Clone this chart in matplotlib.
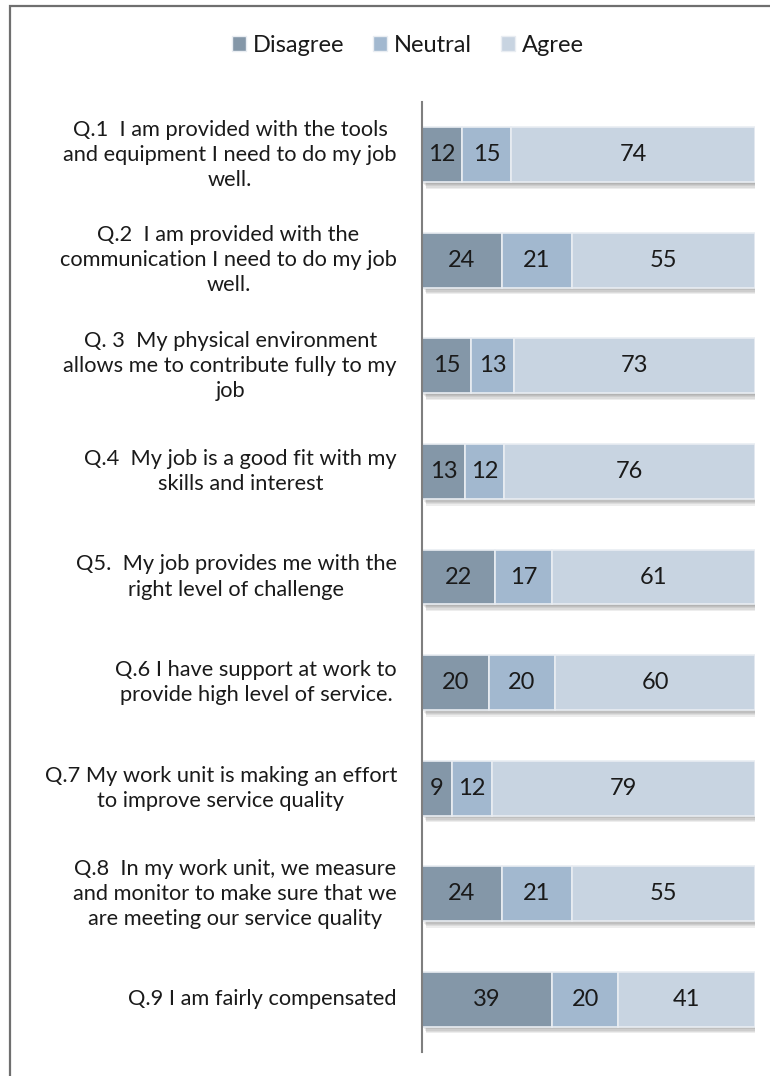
import matplotlib
matplotlib.use("Agg")
import matplotlib.pyplot as plt
import matplotlib.patheffects as pe
from matplotlib.patches import Rectangle, Patch
import numpy as np

plt.rcParams['font.family'] = ['Lato', 'DejaVu Sans']

questions = [
    "Q.1  I am provided with the tools\nand equipment I need to do my job\nwell.",
    "Q.2  I am provided with the\ncommunication I need to do my job\nwell.",
    "Q. 3  My physical environment\nallows me to contribute fully to my\njob",
    "Q.4  My job is a good fit with my\nskills and interest",
    "Q5.  My job provides me with the\nright level of challenge",
    "Q.6 I have support at work to\nprovide high level of service.",
    "Q.7 My work unit is making an effort\nto improve service quality",
    "Q.8  In my work unit, we measure\nand monitor to make sure that we\nare meeting our service quality",
    "Q.9 I am fairly compensated",
]
series_names = ["Disagree", "Neutral", "Agree"]
disagree = [12, 24, 15, 13, 22, 20, 9, 24, 39]
neutral = [15, 21, 13, 12, 17, 20, 12, 21, 20]
agree = [74, 55, 73, 76, 61, 60, 79, 55, 41]

colors = ["#8497a8", "#a2b8cf", "#c8d4e1"]

W, H = 770, 1076
fig = plt.figure(figsize=(W / 100, H / 100), dpi=100)

# outer frame (left and top edges visible)
fig.patches.append(Rectangle((10 / W, -0.1), 2.0, 1 - 6 / H + 0.1,
                             transform=fig.transFigure, fill=False,
                             edgecolor="#6f6f6f", linewidth=1.6))

ax_left, ax_right = 422 / W, 755 / W
ax_top, ax_bot = 102 / H, 1052 / H
ax = fig.add_axes([ax_left, 1 - ax_bot, ax_right - ax_left, ax_bot - ax_top])

data = np.array([disagree, neutral, agree], dtype=float)
totals = data.sum(axis=0)
shares = data / totals
y = np.arange(len(questions))

# soft drop shadow built from several faint offset copies
shadow = [pe.SimplePatchShadow(offset=(0.8 * s, -1.2 * s), shadow_rgbFace="#3a3a3a", alpha=0.09)
          for s in (4, 3.2, 2.4, 1.6, 0.8)] + [pe.Normal()]

left = np.zeros(len(questions))
for k in range(3):
    bars = ax.barh(y, shares[k], left=left, height=0.52, color=colors[k],
                   edgecolor="#e9edf2", linewidth=1.2, label=series_names[k])
    for b in bars:
        b.set_path_effects(shadow)
    for i in range(len(questions)):
        ax.text(left[i] + shares[k][i] / 2, y[i], f"{int(data[k][i])}",
                ha="center", va="center", fontsize=17, color="#1a1a1a")
    left += shares[k]

ax.set_xlim(0, 1)
ax.set_ylim(len(questions) - 0.5, -0.5)
ax.set_xticks([])
ax.set_yticks([])
for s in ["top", "right", "bottom"]:
    ax.spines[s].set_visible(False)
ax.spines["left"].set_color("#7f7f7f")
ax.spines["left"].set_linewidth(1.5)
ax.spines["left"].set_zorder(5)

for i, q in enumerate(questions):
    ax.text(-25 / (ax_right - ax_left) / W, y[i], q, ha="right", va="center",
            multialignment="center", fontsize=15.7, color="#1a1a1a",
            linespacing=1.32, transform=ax.get_yaxis_transform())

handles = [Patch(facecolor=c, edgecolor="#e9edf2") for c in colors]
fig.legend(handles, series_names, loc="center", bbox_to_anchor=(408 / W, 1 - 45 / H),
           ncol=3, frameon=False, fontsize=17, handlelength=0.6, handleheight=0.6,
           handletextpad=0.3, columnspacing=1.2, labelcolor="#1a1a1a")

fig.savefig("out.png", dpi=100)
